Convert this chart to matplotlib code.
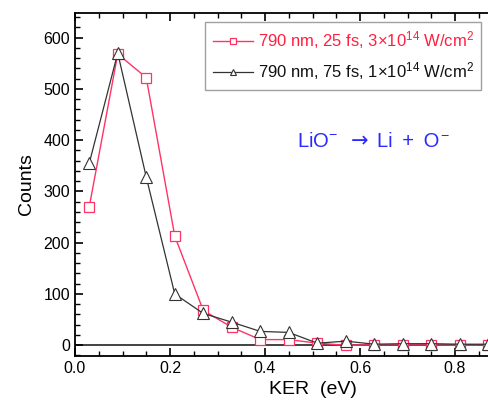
import matplotlib.pyplot as plt
from matplotlib.ticker import MultipleLocator, FixedLocator

plt.rcParams['font.family'] = ['Liberation Sans', 'DejaVu Sans']
plt.rcParams['mathtext.fontset'] = 'custom'
plt.rcParams['mathtext.rm'] = 'Liberation Sans'
plt.rcParams['mathtext.it'] = 'Liberation Sans:italic'
plt.rcParams['mathtext.bf'] = 'Liberation Sans:bold'

ker = [0.03, 0.09, 0.15, 0.21, 0.27, 0.33, 0.39, 0.45, 0.51, 0.57, 0.63, 0.69, 0.75, 0.81, 0.87]
counts_25fs = [270, 568, 522, 213, 68, 35, 11, 11, 4, 0, 1, 1, 1, 0, 1]
counts_75fs = [355, 570, 328, 100, 62, 45, 27, 25, 4, 8, 2, 3, 3, 2, 2]
x_ticks = [0.0, 0.2, 0.4, 0.6, 0.8]

label_25fs = r'790 nm, 25 fs, 3$\times$10$^{14}$ W/cm$^2$'
label_75fs = r'790 nm, 75 fs, 1$\times$10$^{14}$ W/cm$^2$'

fig = plt.figure(figsize=(4.89, 4.13), dpi=100)
# axes run past the right edge of the figure
ax = fig.add_axes([75 / 489, 57 / 413, 475 / 489, 343 / 413])

ax.plot(ker, counts_25fs, color='#ff3366', lw=1.0, marker='s', ms=7,
        mfc='white', mec='#ff3366', mew=0.9, label=label_25fs)
ax.plot(ker, counts_75fs, color='#333333', lw=0.9, marker='^', ms=8,
        mfc='white', mec='#333333', mew=0.8, label=label_75fs)
ax.axhline(0, color='#222222', lw=1.2, zorder=0)

ax.set_xlim(0, 1.0)
ax.set_ylim(-21, 648)
ax.xaxis.set_major_locator(FixedLocator(x_ticks))
ax.xaxis.set_minor_locator(MultipleLocator(0.05))
ax.yaxis.set_major_locator(MultipleLocator(100))
ax.yaxis.set_minor_locator(MultipleLocator(20))
ax.tick_params(which='both', direction='in', top=True, right=True, labelsize=11.5)
ax.tick_params(which='major', length=6, width=1.2)
ax.tick_params(which='minor', length=3.5, width=1.0)
for s in ax.spines.values():
    s.set_linewidth(1.3)

ax.set_xlabel('KER  (eV)', fontsize=14, labelpad=4)
ax.set_ylabel('Counts', fontsize=14, labelpad=6)

leg = ax.legend(loc='upper left', bbox_to_anchor=(130 / 475, 1 - 9 / 343), fontsize=12,
                frameon=True, fancybox=False, edgecolor='#888888',
                handlelength=2.4, handletextpad=0.3, borderpad=0.45,
                labelspacing=0.55, borderaxespad=0)
leg.get_frame().set_linewidth(1.0)
leg.get_texts()[0].set_color('#ff2040')
leg.get_texts()[1].set_color('#111111')
for h in leg.legend_handles:
    h.set_markersize(5)

# reaction label, in pieces so the arrow can use a fuller glyph
blue = '#2a2aff'
ax.text(297, 413 - 147, 'LiO$^{-}$', transform=None, color=blue,
        fontsize=14.5, ha='left', va='baseline')
ax.text(360, 413 - 147, '\u2192', transform=None, color=blue,
        fontsize=15, family='DejaVu Sans', ha='center', va='baseline')
ax.text(377, 413 - 147, 'Li \u2009+ \u2009O', transform=None, color=blue,
        fontsize=14.5, ha='left', va='baseline')
ax.text(450, 413 - 147, '$^{-}$', transform=None, color=blue,
        fontsize=14.5, ha='right', va='baseline')

fig.savefig('out.png', dpi=100)
